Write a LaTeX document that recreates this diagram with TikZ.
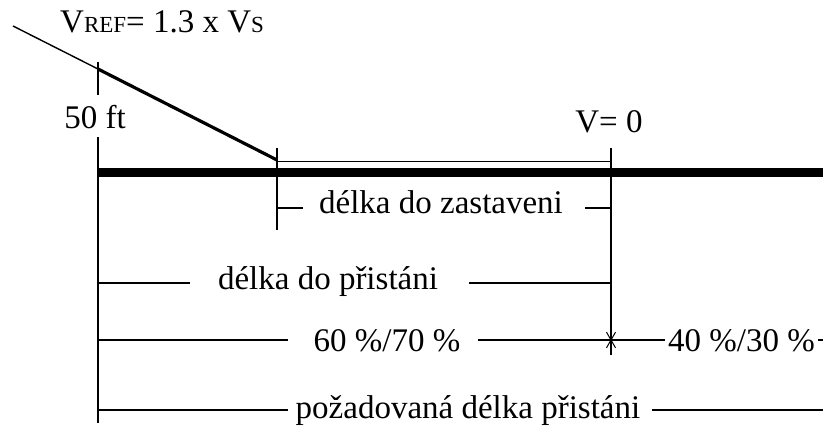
\documentclass[tikz,border=0pt]{standalone}
\usepackage{fontspec}
\setmainfont{Liberation Serif}
\newcommand{\smallcap}[1]{{\fontsize{23}{23}\selectfont #1}}
\begin{document}
\begin{tikzpicture}[x=1pt,y=-1pt,
  lbl/.style={font=\fontsize{33}{36}\selectfont, inner sep=0pt, text=black},
  thin/.style={line width=1.4pt, black},
  ground/.style={line width=9pt, black},
  slope/.style={line width=3.2pt, black}]
\useasboundingbox (0,0) rectangle (823,427);
% key points
\coordinate (s0) at (13,26);
\coordinate (s1) at (98,69);
\coordinate (td) at (277,160);
\coordinate (g0) at (98,172.5);
\coordinate (g1) at (830,172.5);
% slope
\draw[thin] (s0) -- (s1);
\draw[slope] (s1) -- (td);
% ground
\draw[ground] (g0) -- (g1);
\draw[line width=1.8pt] (277,161.5) -- (611,161.5);
% texts
\node[lbl, anchor=base west] (vref) at (60,33) {V\smallcap{REF}= 1.3 x V\smallcap{S}};
\node[lbl, anchor=base] (ft) at (95,129) {50 ft};
\node[lbl, anchor=base] (v0) at (609,133) {V= 0};
\node[lbl, anchor=base] (zast) at (441,214) {délka do zastaveni};
\node[lbl, anchor=base] (prist) at (328,290) {délka do přistáni};
\node[lbl, anchor=base] (sixty) at (387,352) {60 \%/70 \%};
\node[lbl, anchor=base west] (forty) at (668,352) {40 \%/30 \%};
\node[lbl, anchor=base] (poz) at (468,419) {požadovaná délka přistáni};
% verticals
\draw[thin] (98,62) -- (98,95);
\draw[thin] (98,137) -- (98,423);
\draw[thin] (277,148) -- (277,230);
\draw[thin] (611,148) -- (611,355);
% dimension lines
\draw[thin] (278,208) -- (303,208);
\draw[thin] (585,208) -- (611,208);
\draw[thin] (98,283) -- (190,283);
\draw[thin] (469,283) -- (611,283);
\draw[thin] (98,340) -- (288,340);
\draw[thin] (478,340) -- (611,340);
\coordinate (ast) at (611,340);
\draw[thin] (ast) -- (665,340);
\foreach \a in {60,120,240,300}
  \draw[line width=1pt] (ast) -- ++(\a:9);
\draw[line width=1pt] (ast) -- ++(0,11);
\draw[thin] (forty.east |- ast) ++(3,0) -- ++(40,0);
\draw[thin] (98,410) -- (288,410);
\draw[thin] (652,410) -- (823,410);
\draw[line width=2.6pt] (700,410) -- (722,410);
\end{tikzpicture}
\end{document}
